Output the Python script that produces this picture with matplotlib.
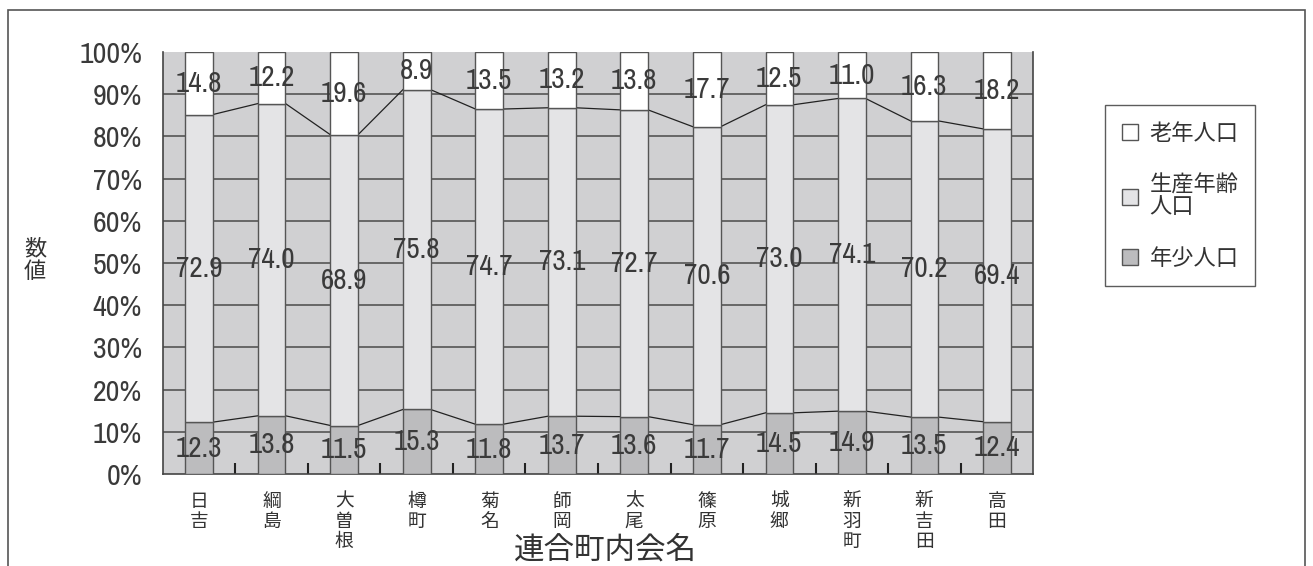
import matplotlib.pyplot as plt
import matplotlib.patches as mpatches
from matplotlib import font_manager
import numpy as np

JP = "Noto Sans CJK JP"
names = {f.name for f in font_manager.fontManager.ttflist}
NUM = "Archivo Narrow" if "Archivo Narrow" in names else JP
plt.rcParams['font.family'] = [NUM, JP, 'DejaVu Sans']

# data (percent)
districts = ["日吉", "綱島", "大曽根", "樽町", "菊名", "師岡", "太尾", "篠原", "城郷", "新羽町", "新吉田", "高田"]
young = [12.3, 13.8, 11.5, 15.3, 11.8, 13.7, 13.6, 11.7, 14.5, 14.9, 13.5, 12.4]
working = [72.9, 74.0, 68.9, 75.8, 74.7, 73.1, 72.7, 70.6, 73.0, 74.1, 70.2, 69.4]
old = [14.8, 12.2, 19.6, 8.9, 13.5, 13.2, 13.8, 17.7, 12.5, 11.0, 16.3, 18.2]
series_names = ["老年人口", "生産年齢\n人口", "年少人口"]

fig = plt.figure(figsize=(13.13, 5.66), dpi=100)
ax = fig.add_axes([0.1241, 0.1625, 0.6627, 0.7455])

# outer frame of the figure
fig.add_artist(mpatches.Rectangle((8 / 1313, -0.05), 1297 / 1313, 1.05 - 10 / 566,
                                  transform=fig.transFigure, fill=False,
                                  edgecolor="#555555", lw=1.2))

x = np.arange(len(districts))
w = 0.38
ax.set_facecolor("#d0d0d2")
for y in range(10, 100, 10):
    ax.axhline(y, color="#4a4a4a", lw=1.1, zorder=1)

young = np.array(young)
working = np.array(working)
old = np.array(old)
edge = dict(edgecolor="#555555", linewidth=1.0, zorder=3)
b1 = ax.bar(x, young, w, color="#bcbcbe", **edge)
b2 = ax.bar(x, working, w, bottom=young, color="#e4e4e6", **edge)
b3 = ax.bar(x, old, w, bottom=young + working, color="white", **edge)

# series lines between bars
for tops in (young, young + working):
    for i in range(len(x) - 1):
        ax.plot([x[i] + w / 2, x[i + 1] - w / 2], [tops[i], tops[i + 1]],
                color="#222222", lw=0.9, zorder=2)

# data labels
lab = dict(ha="center", va="center", fontsize=21, color="#3a3a3a", zorder=4)
for i in range(len(x)):
    ax.text(x[i], young[i] / 2, f"{young[i]:.1f}", **lab)
    ax.text(x[i], young[i] + working[i] / 2, f"{working[i]:.1f}", **lab)
    ax.text(x[i], young[i] + working[i] + old[i] / 2, f"{old[i]:.1f}", **lab)

ax.set_xlim(-0.5, len(x) - 0.5)
ax.set_ylim(0, 100)
ax.set_yticks(range(0, 101, 10))
ax.set_yticklabels([f"{v}%" for v in range(0, 101, 10)], fontsize=21.5, color="#3a3a3a")
ax.tick_params(axis="y", length=0, pad=15)

ax.set_xticks(x)
ax.set_xticklabels(["\n".join(d) for d in districts], fontsize=13.5,
                   family=[JP], va="top", linespacing=0.95, color="#333333")
ax.tick_params(axis="x", which="major", length=0, pad=12)
ax.set_xticks(np.arange(0.5, len(x) - 1, 1), minor=True)
ax.tick_params(axis="x", which="minor", direction="in", length=8, width=1.5, color="#222222")

for s in ax.spines.values():
    s.set_color("#444444")
    s.set_linewidth(1.2)
ax.spines["top"].set_visible(False)

fig.text(35 / 1313, 1 - 260 / 566, "数\n値", fontsize=16, family=[JP],
         ha="center", va="center", linespacing=0.95, color="#333333")
fig.text(605 / 1313, 1 - 550 / 566, "連合町内会名", fontsize=22, family=[JP],
         ha="center", va="center", color="#333333")

leg = fig.legend([b3, b2, b1], series_names, loc="upper left",
                 bbox_to_anchor=(1105 / 1313, 1 - 105 / 566),
                 prop={"family": [JP], "size": 16},
                 frameon=True, fancybox=False, edgecolor="#333333",
                 handlelength=0.75, handleheight=0.75, handletextpad=0.5,
                 labelspacing=1.3, borderpad=0.75, borderaxespad=0)
leg.get_frame().set_linewidth(1.0)
for t in leg.get_texts():
    t.set_color("#333333")
    t.set_linespacing(0.9)

fig.savefig("out.png", dpi=100)
